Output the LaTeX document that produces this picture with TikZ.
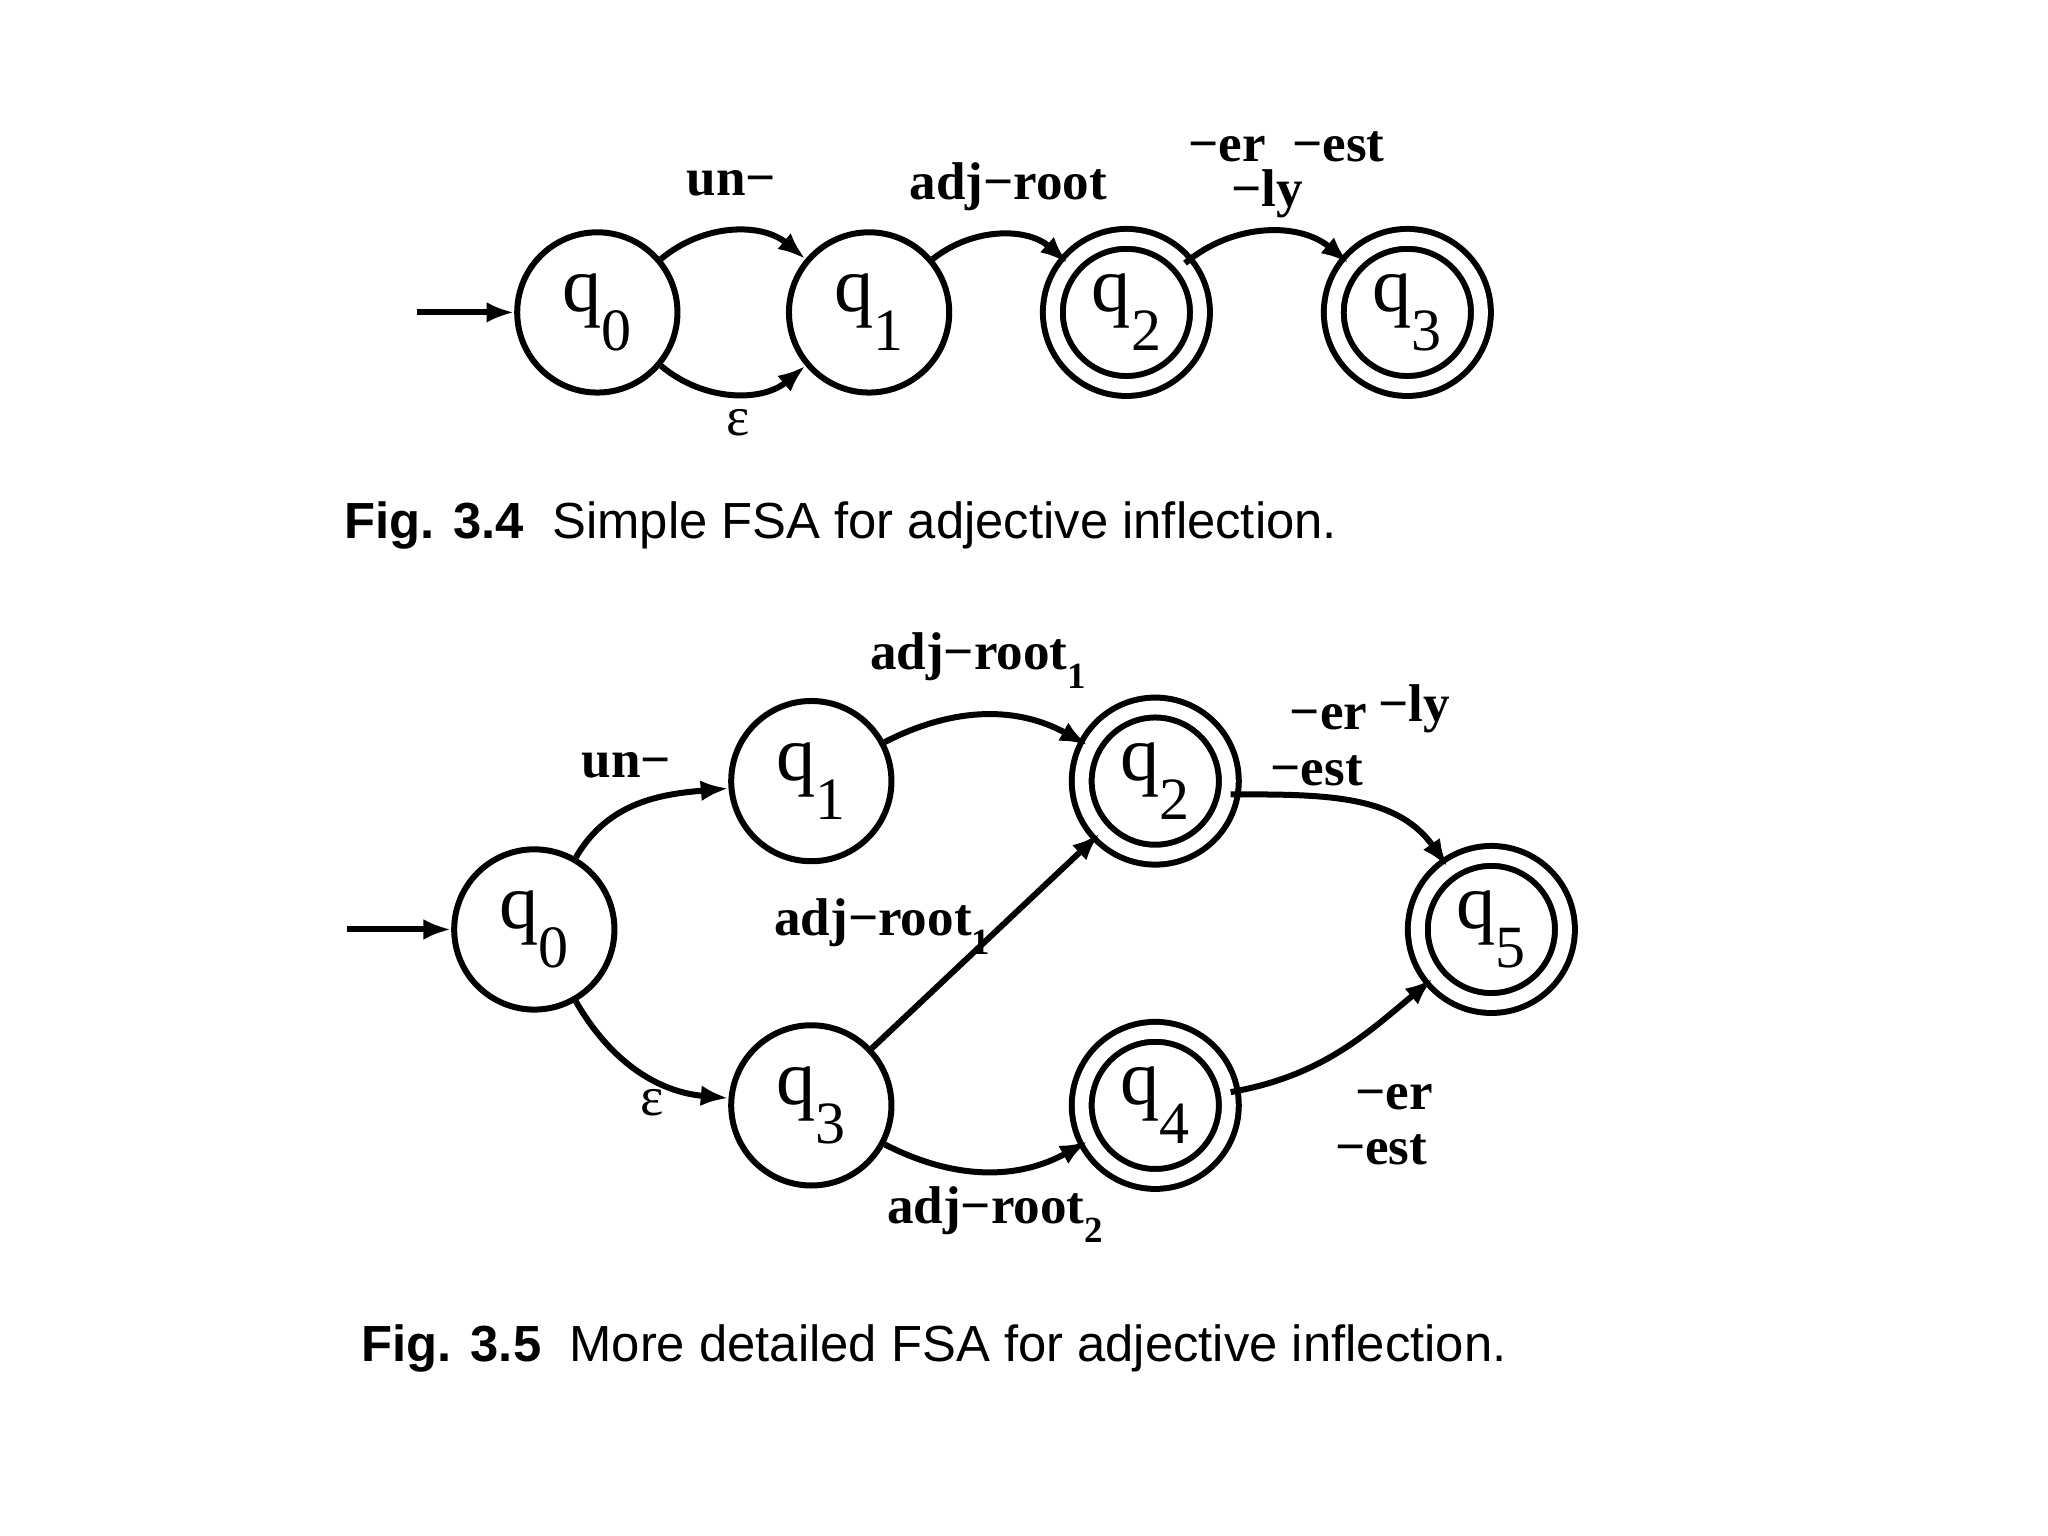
\documentclass[tikz,border=0pt]{standalone}
\usepackage{fontspec}
\setmainfont{Liberation Serif}
\newfontfamily\capfont{Liberation Sans}
\usetikzlibrary{arrows.meta}
\begin{document}
\begin{tikzpicture}[x=0.01cm,y=0.01cm,
  st/.style={circle,draw,line width=1.3pt,minimum size=1.22cm,inner sep=0pt,font=\fontsize{17}{17}\selectfont},
  acc/.style={st,double,double distance=3pt,minimum size=1.12cm},
  tr/.style={line width=1.3pt,-{Latex[length=6pt,width=4.5pt]}},
  lb/.style={font=\bfseries\fontsize{11.5}{12}\selectfont},
  figcap/.style={font=\capfont\fontsize{11}{13}\selectfont,anchor=west}]
\newcommand{\qs}[1]{q\raisebox{-0.5em}{\fontsize{13}{13}\selectfont #1}}
\newcommand{\sbx}[1]{\raisebox{-0.35em}{\fontsize{8}{8}\selectfont #1}}
\useasboundingbox (0,0) rectangle (1560,1170);
% Fig 3.4
\node[st] (a0) at (455,932) {\qs{0}};
\node[st] (a1) at (662,932) {\qs{1}};
\node[acc] (a2) at (858,932) {\qs{2}};
\node[acc] (a3) at (1072,932) {\qs{3}};
\coordinate (as) at (318,932);
\draw[tr] (as) -- (a0);
\draw[tr] (a0) to[bend left=40] (a1);
\draw[tr] (a0) to[bend right=40] (a1);
\draw[tr] (a1) to[bend left=40] (a2);
\draw[tr] (a2) to[bend left=40] (a3);
\node[lb] (l1) at (557,1030) {un−};
\node[font=\fontsize{12}{12}\selectfont] (l2) at (562,848) {ε};
\node[lb] (l3) at (768,1028) {adj−root};
\node[lb] (l4) at (980,1058) {−er\ \ −est};
\node[lb] (l5) at (965,1022) {−ly};
\node[figcap] (c1) at (250,770) {\textbf{Fig. 3.4}\ \ Simple FSA for adjective inflection.};
% Fig 3.5
\node[st] (b0) at (407,462) {\qs{0}};
\node[st] (b1) at (618,575) {\qs{1}};
\node[acc] (b2) at (880,575) {\qs{2}};
\node[st] (b3) at (618,328) {\qs{3}};
\node[acc] (b4) at (880,328) {\qs{4}};
\node[acc] (b5) at (1136,462) {\qs{5}};
\coordinate (bs) at (264,462);
\draw[tr] (bs) -- (b0);
\draw[tr] (b0) to[out=60,in=185] (b1);
\draw[tr] (b0) to[out=-60,in=175] (b3);
\draw[tr] (b1) to[bend left=28] (b2);
\draw[tr] (b3) -- (b2);
\draw[tr] (b3) to[bend right=28] (b4);
\draw[tr] (b2.-10) to[out=0,in=125] (b5);
\draw[tr] (b4.10) to[out=10,in=-140] (b5);
\node[lb] (m1) at (477,587) {un−};
\node[font=\fontsize{12}{12}\selectfont] (m2) at (497,330) {ε};
\node[lb] (m3) at (745,667) {adj−root\sbx{1}};
\node[lb] (m4) at (672,464) {adj−root\sbx{1}};
\node[lb] (m5) at (758,245) {adj−root\sbx{2}};
\node[lb] (m6) at (1012,624) {−er};
\node[lb] (m7) at (1077,630) {−ly};
\node[lb] (m8) at (1003,583) {−est};
\node[lb] (m9) at (1062,334) {−er};
\node[lb] (m10) at (1052,294) {−est};
\node[figcap] (c2) at (263,143) {\textbf{Fig. 3.5}\ \ More detailed FSA for adjective inflection.};
\end{tikzpicture}
\end{document}
